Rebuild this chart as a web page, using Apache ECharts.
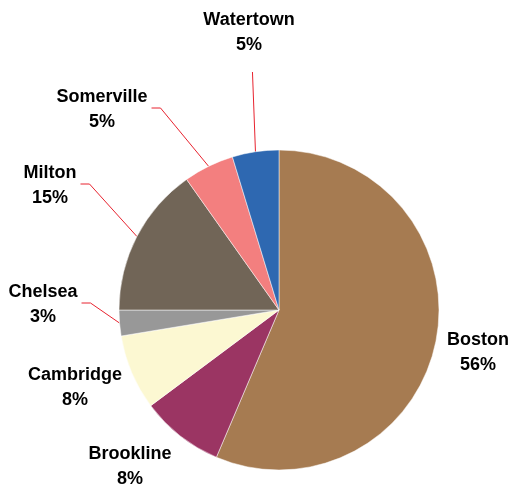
<!DOCTYPE html>
<html>
<head>
<meta charset="utf-8">
<script src="https://cdn.jsdelivr.net/npm/echarts@6/dist/echarts.min.js"></script>
<style>
  html, body { margin: 0; padding: 0; background: #fff; }
  #chart { width: 509px; height: 487px; }
</style>
</head>
<body>
<div id="chart"></div>
<script>
// share of total, clockwise from 12 o'clock
const cities = ['Boston', 'Brookline', 'Cambridge', 'Chelsea', 'Milton', 'Somerville', 'Watertown']
const shares = [56.4, 8.4, 7.6, 2.6, 15.2, 5.1, 4.7]
const sliceColors = ['#a67b51', '#9b3563', '#fcf8d2', '#989898', '#716557', '#f37f7f', '#2e68b1']

// label block centres and leader style (layout only)
const labelPos = [[478, 353], [130, 467], [75, 388], [43, 305], [50, 186], [102, 110], [249, 33]]
const leader = [null, null, null, 'side', 'side', 'side', 'top']

const chart = echarts.init(document.getElementById('chart'))

const option = {
  backgroundColor: '#fff',
  animation: false,
  series: [
    {
      type: 'pie',
      center: [279, 310],
      radius: 160,
      startAngle: 90,
      clockwise: true,
      silent: true,
      avoidLabelOverlap: false,
      minShowLabelAngle: 0,
      itemStyle: {
        borderColor: '#fff',
        borderWidth: 0.5
      },
      label: {
        show: true,
        position: 'outside',
        overflow: 'none',
        color: '#000',
        fontFamily: 'Liberation Sans, Arial, sans-serif',
        fontWeight: 'bold',
        fontSize: 18,
        lineHeight: 25,
        formatter: params => params.name + '\n' + Math.round(params.percent) + '%'
      },
      labelLine: {
        show: true,
        length: 10,
        length2: 10,
        lineStyle: { color: '#e8232f', width: 1 }
      },
      labelLayout: function (params) {
        const i = params.dataIndex
        const p = labelPos[i]
        const out = { x: p[0], y: p[1], align: 'center', verticalAlign: 'middle' }
        const edge = params.labelLinePoints && params.labelLinePoints[0]
        if (edge && leader[i] === 'side') {
          const sx = p[0] + params.labelRect.width / 2 + 4
          const sy = p[1] - 2
          out.labelLinePoints = [edge, [sx + 9, sy], [sx, sy]]
        } else if (edge && leader[i] === 'top') {
          out.labelLinePoints = [edge, [edge[0] - 3, p[1] + 39]]
        }
        return out
      },
      data: cities.map((name, i) => ({
        name: name,
        value: shares[i],
        itemStyle: { color: sliceColors[i] },
        labelLine: { show: leader[i] !== null }
      }))
    }
  ]
}

chart.setOption(option)
</script>
</body>
</html>
